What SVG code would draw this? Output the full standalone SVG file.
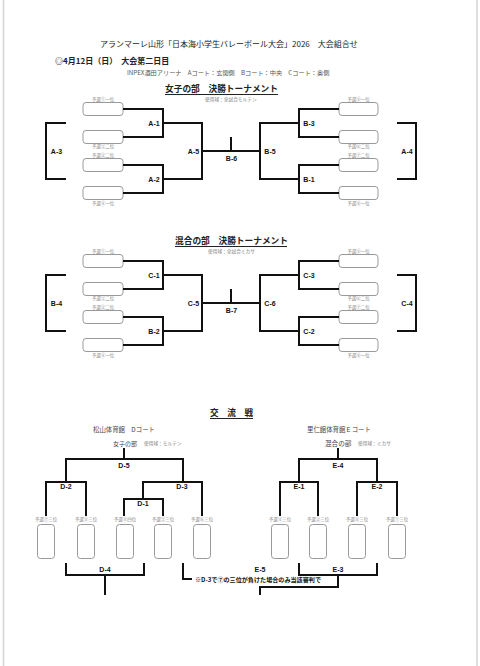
<svg xmlns="http://www.w3.org/2000/svg" width="480" height="666" viewBox="0 0 480 666">
<style>
.jp{font-family:'Noto Sans CJK JP','Noto Sans',sans-serif}
.hd{fill:#222}
.sm{font-family:'Noto Sans CJK JP',sans-serif;font-size:4.5px;fill:#888;text-anchor:middle}
.use{font-family:'Noto Sans CJK JP',sans-serif;font-size:4.7px;fill:#777}
.lb{font-family:'Liberation Sans',Arial,sans-serif;font-size:7px;font-weight:bold;fill:#111;text-anchor:middle}
.br{fill:none;stroke:#111;stroke-width:2;stroke-linejoin:miter;stroke-linecap:butt}
.bx{fill:#fff;stroke:#999;stroke-width:1}
.ul{stroke:#222;stroke-width:1}
</style>
<rect width="480" height="666" fill="#fff"/>
<line x1="3.5" y1="0" x2="3.5" y2="666" stroke="#d4d4d4" stroke-width="1.5"/>
<line x1="477" y1="0" x2="477" y2="666" stroke="#d4d4d4" stroke-width="1.5"/>

<g id="header">
<text class="jp hd" x="100" y="47" font-size="8">アランマーレ山形「日本海小学生バレーボール大会」2026　大会組合せ</text>
<text class="jp hd" x="55" y="64" font-size="8" font-weight="bold">◎4月12日（日）　大会第二日目</text>
<text class="jp" x="127" y="75" font-size="6.2" fill="#555">INPEX酒田アリーナ　Aコート：玄関側　Bコート：中央　Cコート：奥側</text>
</g>

<!-- Section 1 -->
<g id="title1">
<text class="jp hd" x="165" y="92" font-size="8.7" font-weight="bold">女子の部　決勝トーナメント</text>
<line class="ul" x1="165" y1="94.5" x2="278" y2="94.5"/>
<text class="use" x="205" y="101">使用球：全試合モルテン</text>
</g>
<g id="boxes1">
<rect class="bx" x="83" y="102.5" width="40" height="13" rx="3"/>
<rect class="bx" x="83" y="130.5" width="40" height="13" rx="3"/>
<rect class="bx" x="83" y="158.5" width="40" height="13" rx="3"/>
<rect class="bx" x="83" y="186.5" width="40" height="13" rx="3"/>
<rect class="bx" x="339" y="102.5" width="39" height="13" rx="3"/>
<rect class="bx" x="339" y="130.5" width="39" height="13" rx="3"/>
<rect class="bx" x="339" y="158.5" width="39" height="13" rx="3"/>
<rect class="bx" x="339" y="186.5" width="39" height="13" rx="3"/>
<text class="sm" x="103" y="100.5">予選①一位</text>
<text class="sm" x="103" y="148">予選②二位</text>
<text class="sm" x="103" y="156.5">予選③二位</text>
<text class="sm" x="103" y="204.5">予選④一位</text>
<text class="sm" x="358.5" y="100.5">予選⑤一位</text>
<text class="sm" x="358.5" y="148">予選⑥二位</text>
<text class="sm" x="358.5" y="156.5">予選⑦二位</text>
<text class="sm" x="358.5" y="204.5">予選⑧一位</text>
</g>
<g id="connectors1">
<path class="br" d="M123,109 H163 V137 H123"/>
<path class="br" d="M123,165 H163 V193 H123"/>
<path class="br" d="M163,123 H202 V179 H163"/>
<path class="br" d="M202,151 H260"/>
<path class="br" d="M231,151 V137"/>
<path class="br" d="M299,123 H260 V179 H299"/>
<path class="br" d="M339,109 H299 V137 H339"/>
<path class="br" d="M339,165 H299 V193 H339"/>
<path class="br" d="M66,123 H46 V179 H66"/>
<path class="br" d="M397,123 H416 V179 H397"/>
</g>
<g id="labels1">
<text class="lb" x="154" y="125.5">A-1</text>
<text class="lb" x="154" y="181.5">A-2</text>
<text class="lb" x="193.5" y="153.5">A-5</text>
<text class="lb" x="231.5" y="160.5">B-6</text>
<text class="lb" x="56.5" y="153.5">A-3</text>
<text class="lb" x="309" y="125.5">B-3</text>
<text class="lb" x="309" y="181.5">B-1</text>
<text class="lb" x="270" y="153.5">B-5</text>
<text class="lb" x="407" y="153.5">A-4</text>
</g>

<!-- Section 2 -->
<g id="title2">
<text class="jp hd" x="175" y="244" font-size="8.7" font-weight="bold">混合の部　決勝トーナメント</text>
<line class="ul" x1="175" y1="246.5" x2="287" y2="246.5"/>
<text class="use" x="208" y="253">使用球：全試合ミカサ</text>
</g>
<g id="boxes2" transform="translate(0,152)">
<rect class="bx" x="83" y="102.5" width="40" height="13" rx="3"/>
<rect class="bx" x="83" y="130.5" width="40" height="13" rx="3"/>
<rect class="bx" x="83" y="158.5" width="40" height="13" rx="3"/>
<rect class="bx" x="83" y="186.5" width="40" height="13" rx="3"/>
<rect class="bx" x="339" y="102.5" width="39" height="13" rx="3"/>
<rect class="bx" x="339" y="130.5" width="39" height="13" rx="3"/>
<rect class="bx" x="339" y="158.5" width="39" height="13" rx="3"/>
<rect class="bx" x="339" y="186.5" width="39" height="13" rx="3"/>
<text class="sm" x="103" y="100.5">予選①一位</text>
<text class="sm" x="103" y="148">予選②二位</text>
<text class="sm" x="103" y="156.5">予選③二位</text>
<text class="sm" x="103" y="204.5">予選④一位</text>
<text class="sm" x="358.5" y="100.5">予選⑤一位</text>
<text class="sm" x="358.5" y="148">予選⑥二位</text>
<text class="sm" x="358.5" y="156.5">予選⑦二位</text>
<text class="sm" x="358.5" y="204.5">予選⑧一位</text>
</g>
<g id="connectors2" transform="translate(0,152)">
<path class="br" d="M123,109 H163 V137 H123"/>
<path class="br" d="M123,165 H163 V193 H123"/>
<path class="br" d="M163,123 H202 V179 H163"/>
<path class="br" d="M202,151 H260"/>
<path class="br" d="M231,151 V137"/>
<path class="br" d="M299,123 H260 V179 H299"/>
<path class="br" d="M339,109 H299 V137 H339"/>
<path class="br" d="M339,165 H299 V193 H339"/>
<path class="br" d="M66,123 H46 V179 H66"/>
<path class="br" d="M397,123 H416 V179 H397"/>
</g>
<g id="labels2" transform="translate(0,152)">
<text class="lb" x="154" y="125.5">C-1</text>
<text class="lb" x="154" y="181.5">B-2</text>
<text class="lb" x="193.5" y="153.5">C-5</text>
<text class="lb" x="231.5" y="160.5">B-7</text>
<text class="lb" x="56.5" y="153.5">B-4</text>
<text class="lb" x="309" y="125.5">C-3</text>
<text class="lb" x="309" y="181.5">C-2</text>
<text class="lb" x="270" y="153.5">C-6</text>
<text class="lb" x="407" y="153.5">C-4</text>
</g>

<!-- Section 3 -->
<g id="title3">
<text class="jp hd" x="210" y="416" font-size="8.6" font-weight="bold">交　流　戦</text>
<line class="ul" x1="210" y1="418.5" x2="253" y2="418.5"/>
</g>
<g id="venueD">
<text class="jp" x="93" y="431.5" font-size="6.4" fill="#444">松山体育館　Dコート</text>
<text class="jp" x="113" y="445.5" font-size="6" fill="#444">女子の部</text>
<text class="use" x="144" y="445" font-size="4.5">使用球：モルテン</text>
</g>
<g id="venueE">
<text class="jp" x="307" y="431.5" font-size="6.4" fill="#444">里仁館体育館Ｅコート</text>
<text class="jp" x="325" y="445.5" font-size="6.6" fill="#444">混合の部</text>
<text class="use" x="358" y="445" font-size="4.5">使用球：ミカサ</text>
</g>
<g id="boxesD">
<rect class="bx" x="37.5" y="524.5" width="17" height="34" rx="3"/>
<rect class="bx" x="77.5" y="524.5" width="17" height="34" rx="3"/>
<rect class="bx" x="116.5" y="524.5" width="17" height="34" rx="3"/>
<rect class="bx" x="154.5" y="524.5" width="17" height="34" rx="3"/>
<rect class="bx" x="193.5" y="524.5" width="17" height="34" rx="3"/>
<text class="sm" x="46" y="521">予選⑦三位</text>
<text class="sm" x="86" y="521">予選⑤三位</text>
<text class="sm" x="125" y="521">予選④四位</text>
<text class="sm" x="163" y="521">予選②三位</text>
<text class="sm" x="202" y="521">予選⑥三位</text>
</g>
<g id="boxesE">
<rect class="bx" x="271.5" y="524.5" width="17" height="34" rx="3"/>
<rect class="bx" x="309.5" y="524.5" width="17" height="34" rx="3"/>
<rect class="bx" x="348.5" y="524.5" width="17" height="34" rx="3"/>
<rect class="bx" x="388.5" y="524.5" width="17" height="34" rx="3"/>
<text class="sm" x="280" y="521">予選④三位</text>
<text class="sm" x="318" y="521">予選③三位</text>
<text class="sm" x="357" y="521">予選⑧三位</text>
<text class="sm" x="397" y="521">予選①三位</text>
</g>
<g id="connectors3">
<path class="br" d="M124,448 V459"/>
<path class="br" d="M66,482 V459 H183 V482"/>
<path class="br" d="M46,516 V482 H86 V516"/>
<path class="br" d="M143,499 V482 H202 V516"/>
<path class="br" d="M124,516 V499 H163 V516"/>
<path class="br" d="M66,563 V575 H144 V563"/>
<path class="br" d="M105,575 V595"/>
<path class="br" d="M183,563 V579 H192"/>
<path class="br" d="M338,448 V459"/>
<path class="br" d="M299,482 V459 H377 V482"/>
<path class="br" d="M280,516 V482 H318 V516"/>
<path class="br" d="M357,516 V482 H397 V516"/>
<path class="br" d="M299,563 V575 H377 V563"/>
<path class="br" d="M338,575 V587 H260 V595"/>
</g>
<g id="labels3">
<text class="lb" x="124" y="467.5">D-5</text>
<text class="lb" x="66" y="489">D-2</text>
<text class="lb" x="182" y="489">D-3</text>
<text class="lb" x="143" y="505.5">D-1</text>
<text class="lb" x="105" y="571.5">D-4</text>
<text class="lb" x="338" y="467.5">E-4</text>
<text class="lb" x="299" y="489">E-1</text>
<text class="lb" x="377" y="489">E-2</text>
<text class="lb" x="338" y="571.5">E-3</text>
<text class="lb" x="260" y="571.5">E-5</text>
<text class="jp" x="195" y="582" font-size="6.1" font-weight="bold" fill="#111">※D-3で⑦の三位が負けた場合のみ当該審判で</text>
</g>
</svg>
